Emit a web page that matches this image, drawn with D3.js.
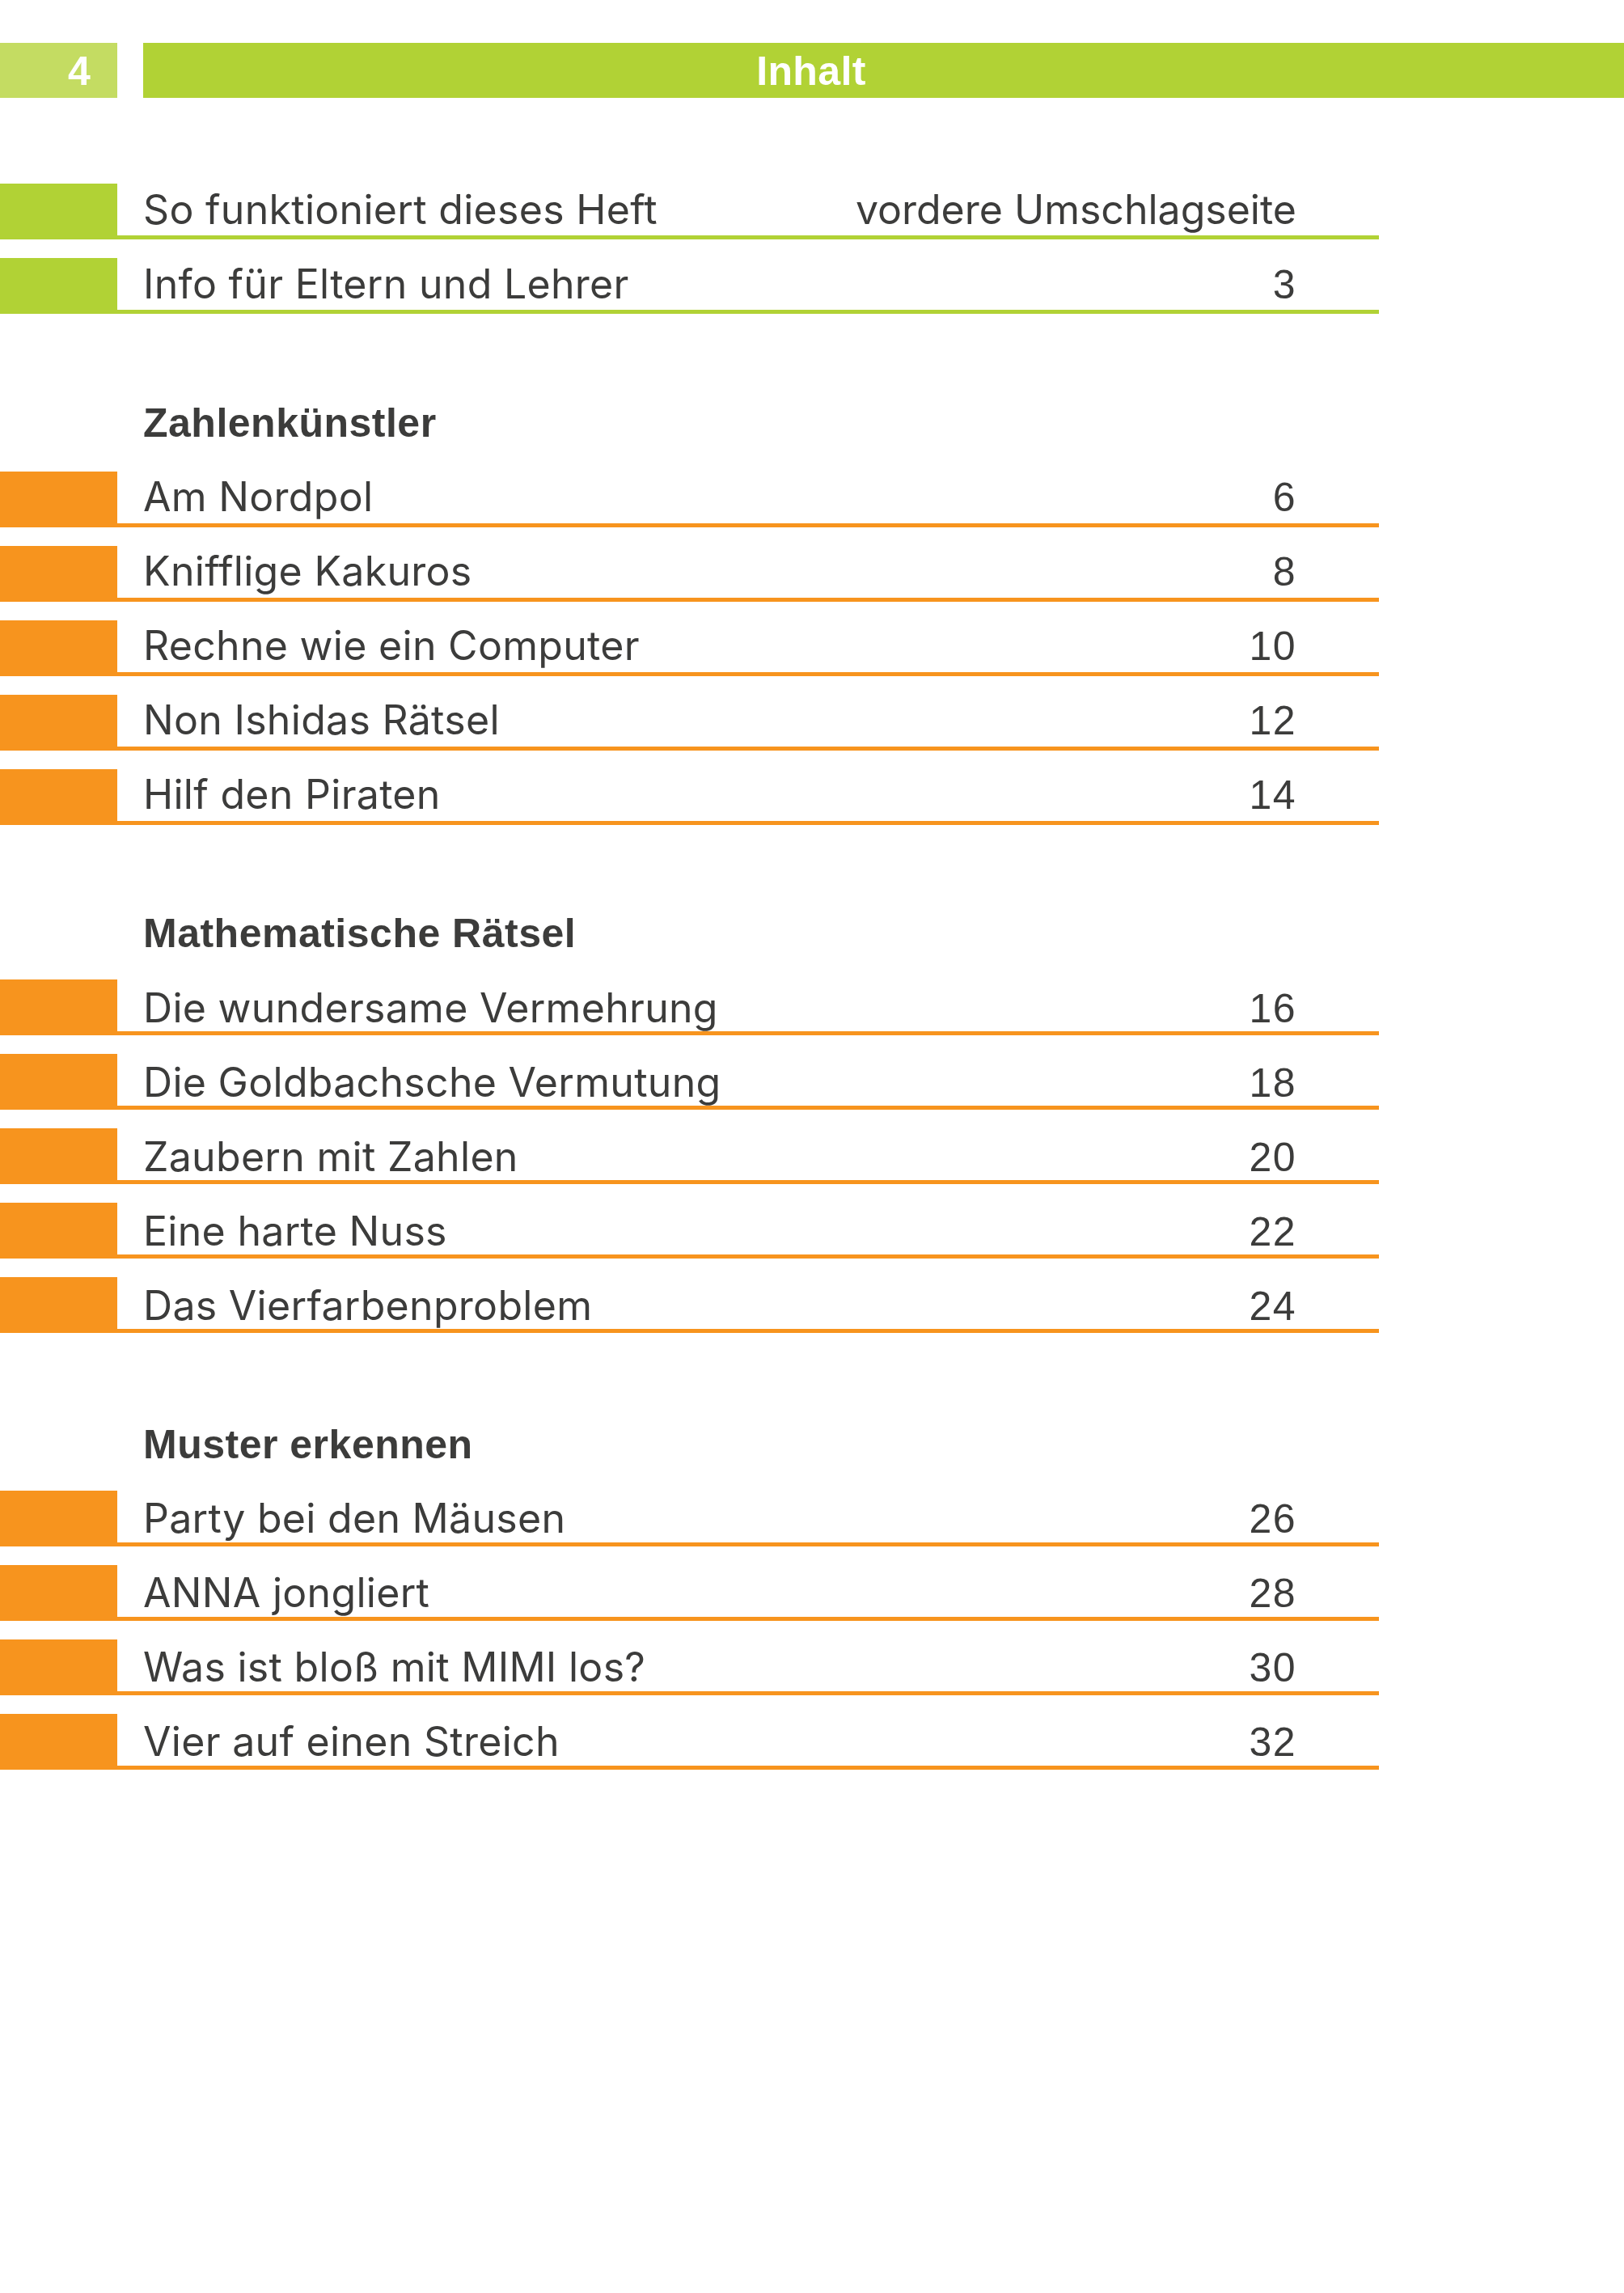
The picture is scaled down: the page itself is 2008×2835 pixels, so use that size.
<!DOCTYPE html>
<html><head><meta charset="utf-8">
<script src="https://cdn.jsdelivr.net/npm/d3@7/dist/d3.min.js"></script>
<style>html,body{margin:0;padding:0;background:#fff}svg{display:block}</style>
</head><body><div id="c"></div>
<script>
const pageNumber = "4";
const pageTitle = "Inhalt";
const introTitles = ["So funktioniert dieses Heft", "Info für Eltern und Lehrer"];
const introPages = ["vordere Umschlagseite", "3"];
const sectionNames = ["Zahlenkünstler", "Mathematische Rätsel", "Muster erkennen"];
const section1Titles = ["Am Nordpol", "Knifflige Kakuros", "Rechne wie ein Computer", "Non Ishidas Rätsel", "Hilf den Piraten"];
const section1Pages = ["6", "8", "10", "12", "14"];
const section2Titles = ["Die wundersame Vermehrung", "Die Goldbachsche Vermutung", "Zaubern mit Zahlen", "Eine harte Nuss", "Das Vierfarbenproblem"];
const section2Pages = ["16", "18", "20", "22", "24"];
const section3Titles = ["Party bei den Mäusen", "ANNA jongliert", "Was ist bloß mit MIMI los?", "Vier auf einen Streich"];
const section3Pages = ["26", "28", "30", "32"];

const W = 2008, H = 2835;
const GREEN = "#b1d235", LIGHT = "#c4dc62", ORANGE = "#f7941e", INK = "#3c3c3b";
const FONT = "Inter, 'Liberation Sans', sans-serif";
const BOLD = "'Liberation Sans', Arial, sans-serif";
const blockW = 145, textX = 177, ruleEnd = 1705, pageEnd = 1603, rowH = 69, ruleH = 5, pitch = 92;
const digitSpacing = 1.5;
const isDigits = s => /^\d+$/.test(s);

const svg = d3.select("#c").append("svg").attr("width", W).attr("height", H).attr("viewBox", `0 0 ${W} ${H}`);
svg.append("rect").attr("width", W).attr("height", H).attr("fill", "#fff");

// header
svg.append("rect").attr("x",0).attr("y",53).attr("width",blockW).attr("height",68).attr("fill",LIGHT);
svg.append("rect").attr("x",textX).attr("y",53).attr("width",W-textX).attr("height",68).attr("fill",GREEN);
svg.append("text").attr("x",98).attr("y",105).attr("text-anchor","middle").attr("font-family",BOLD).attr("font-weight",700).attr("font-size",50).attr("fill","#fff").text(pageNumber);
svg.append("text").attr("x",1003).attr("y",105).attr("text-anchor","middle").attr("font-family",BOLD).attr("font-weight",700).attr("font-size",50).attr("letter-spacing",0.4).attr("fill","#fff").text(pageTitle);

const groups = [
  {titles:introTitles, pages:introPages, top:227, color:GREEN, base:49.5},
  {titles:section1Titles, pages:section1Pages, top:583, color:ORANGE, base:49, name:sectionNames[0], head:540},
  {titles:section2Titles, pages:section2Pages, top:1211, color:ORANGE, base:52.5, name:sectionNames[1], head:1171},
  {titles:section3Titles, pages:section3Pages, top:1843, color:ORANGE, base:52, name:sectionNames[2], head:1803}
];

groups.forEach(g => {
  const y = d3.scaleLinear().domain([0, 1]).range([g.top, g.top + pitch]);
  if (g.name) svg.append("text").attr("x",textX).attr("y",g.head).attr("font-family",BOLD).attr("font-weight",700).attr("font-size",50).attr("letter-spacing",0.5).attr("fill",INK).text(g.name);
  const rows = svg.append("g").selectAll("g").data(g.titles).join("g").attr("transform",(d,i)=>`translate(0,${y(i)})`);
  rows.append("rect").attr("x",0).attr("y",0).attr("width",blockW).attr("height",rowH).attr("fill",g.color);
  rows.append("rect").attr("x",blockW).attr("y",rowH-ruleH).attr("width",ruleEnd-blockW).attr("height",ruleH).attr("fill",g.color);
  rows.append("text").attr("x",textX).attr("y",g.base).attr("font-family",FONT).attr("font-size",50).attr("letter-spacing",0.3).attr("fill",INK).text(d=>d);
  rows.append("text")
    .attr("x",pageEnd)
    .attr("y",g.base).attr("text-anchor","end").attr("font-size",50)
    .attr("font-family",(d,i)=> isDigits(g.pages[i]) ? BOLD : FONT)
    .attr("letter-spacing",(d,i)=> isDigits(g.pages[i]) ? digitSpacing : 0)
    .attr("fill",INK).text((d,i)=>g.pages[i]);
});
</script></body></html>
